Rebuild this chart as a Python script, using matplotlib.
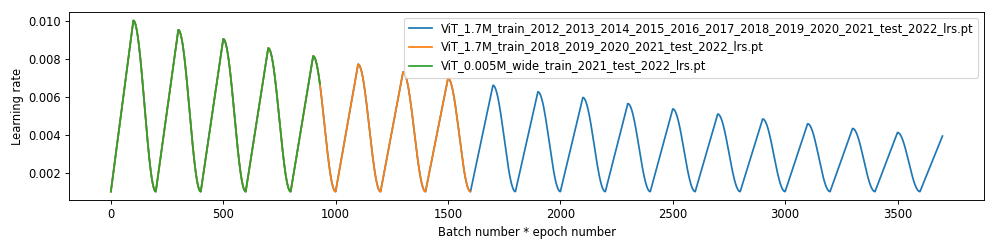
#!/usr/bin/env python3
# coding: utf-8
import numpy as np
import matplotlib
matplotlib.use("Agg")
import matplotlib.pyplot as plt

# learning rate schedule
base_lr = 0.001          # value at every trough (x = 0, 200, 400, ...)
half_cycle = 100         # steps from trough to peak
peak_lr = [0.0100, 0.00951, 0.00903, 0.00855, 0.00813, 0.00770, 0.00729,
           0.00696, 0.00659, 0.00625, 0.00595, 0.00563, 0.00535, 0.00508,
           0.00482, 0.00457, 0.00432, 0.00411, 0.00392]

labels = ["ViT_1.7M_train_2012_2013_2014_2015_2016_2017_2018_2019_2020_2021_test_2022_lrs.pt",
          "ViT_1.7M_train_2018_2019_2020_2021_test_2022_lrs.pt",
          "ViT_0.005M_wide_train_2021_test_2022_lrs.pt"]
series_end = [3700, 1600, 930]
colors = ["#1f77b4", "#ff7f0e", "#2ca02c"]


def lr_curve(n_steps):
    # linear rise to each peak, cosine decay back down to the base
    lrs = []
    for step in range(n_steps + 1):
        cycle = step // (2 * half_cycle)
        pos = step % (2 * half_cycle)
        peak = peak_lr[min(cycle, len(peak_lr) - 1)]
        if pos <= half_cycle:
            lrs.append(base_lr + (peak - base_lr) * pos / half_cycle)
        else:
            t = (pos - half_cycle) / half_cycle
            lrs.append(base_lr + (peak - base_lr) * (1 + np.cos(np.pi * t)) / 2)
    return np.arange(n_steps + 1), np.array(lrs)


# original looks like a 12x3 inch figure scaled down to 997 px wide
fig = plt.figure(figsize=(12.0, 3.0), dpi=997 / 12.0)
ax = fig.add_axes([0.0695, 0.196, 0.9175, 0.755])

for lab, end, col in zip(labels, series_end, colors):
    x, y = lr_curve(end)
    ax.plot(x, y, color=col, label=lab, lw=1.5)

ax.set_xlabel("Batch number * epoch number")
ax.set_ylabel("Learning rate")
ax.set_yticks([0.002, 0.004, 0.006, 0.008, 0.010])
ax.legend(loc="upper right")

fig.savefig("out.png", dpi=997 / 12.0)
